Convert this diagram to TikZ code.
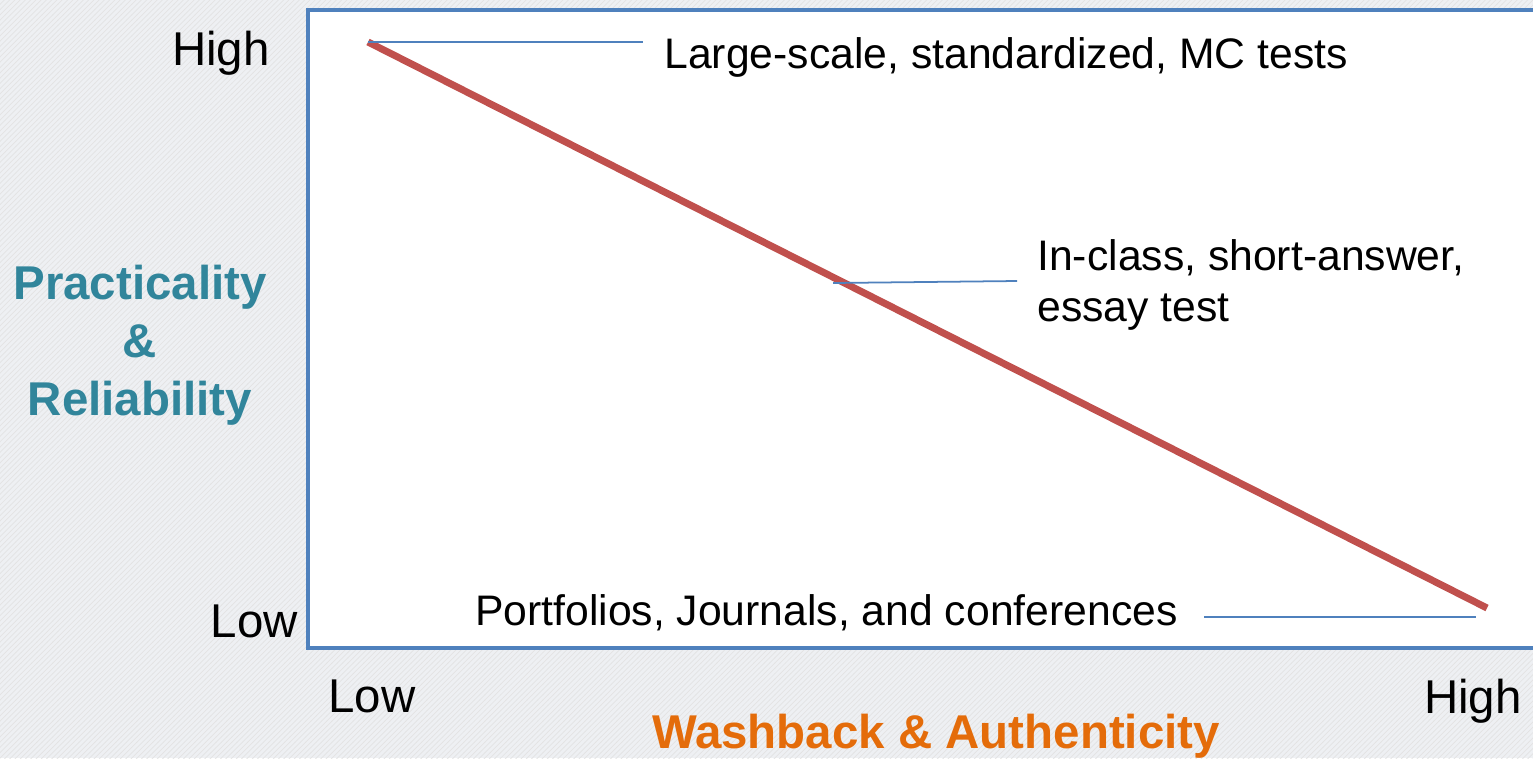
\documentclass[tikz,border=0pt]{standalone}
\usepackage{fontspec}
\setmainfont{Liberation Sans}
\usepackage{tikz}
\usetikzlibrary{positioning,calc,patterns}

\definecolor{framecol}{RGB}{79,129,189}
\definecolor{trendcol}{RGB}{192,80,77}
\definecolor{tealcol}{RGB}{49,133,155}
\definecolor{orangecol}{RGB}{228,108,10}
\definecolor{bgcol}{RGB}{238,240,243}

\begin{document}
\begin{tikzpicture}[x=0.02cm,y=-0.02cm,
			lbl/.style={font=\fontsize{27}{32}\selectfont,text=black,inner sep=0pt},
			item/.style={font=\fontsize{24.3}{29}\selectfont,text=black,inner sep=0pt},
			axtitle/.style={font=\fontsize{27}{33}\selectfont\bfseries,inner sep=0pt,align=center},
			callout/.style={draw=framecol,line width=1.4pt}]
			\useasboundingbox (0,0) rectangle (1533,758);
			
			% background
			\fill[bgcol] (0,0) rectangle (1533,758);
			\fill[pattern=north east lines,pattern color=gray!22] (0,0) rectangle (1533,758);
			
			% plot area
			\fill[white] (308,10) rectangle (1545,648);
			\draw[framecol,line width=2.4pt] (1545,10) -- (308,10) -- (308,648) -- (1545,648);
			
			\coordinate (A) at (368,42);
			\coordinate (B) at (1487,608);
			\draw[trendcol,line width=4pt] (A) -- (B);
			
			% axis labels
			\node[lbl,anchor=east]    (yhigh) at (270,53)		{High};
			
			\node[lbl,anchor=east]    (ylow) at (298,621)		{Low};
			
			\node[lbl,anchor=west]    (xlow) at (328,696)		{Low};
			
			\node[lbl,anchor=east]    (xhigh) at (1522,701)		{High};
			
			\node[axtitle,text=tealcol]    (ytitle) at (140,345)		{Practicality\\\&\\Reliability};
			
			\node[axtitle,text=orangecol]    (xtitle) at (936,736)		{Washback \& Authenticity};
			
			% test types
			\node[item,anchor=base west]    (mc) at (664,68)		{Large-scale, standardized, MC tests};
			
			\node[item,anchor=base west,align=left]    (essay) at (1037,321)		{In-class, short-answer,\\essay test};
			
			\node[item,anchor=base east]    (port) at (1178,625)		{Portfolios, Journals, and conferences};
			
			\coordinate (mcend) at (643,42);
			\coordinate (essbeg) at (833,283);
			\coordinate (essend) at (1017,281);
			\coordinate (portbeg) at (1204,617);
			\coordinate (portend) at (1476,617);
			
			\path
			
			(A) edge[callout] (mcend)
			
			(essbeg) edge[callout,line width=1pt] (essend)
			
			(portbeg) edge[callout] (portend);
			\end{tikzpicture}
\end{document}
